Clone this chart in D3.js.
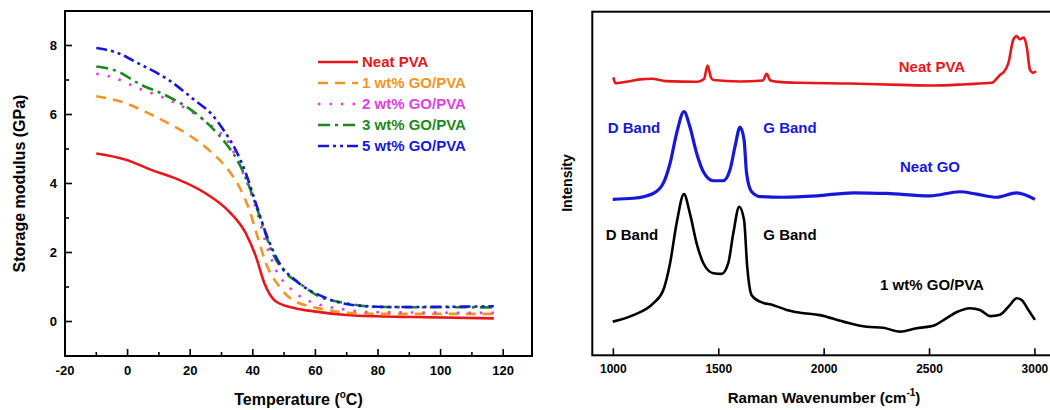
<!DOCTYPE html>
<html>
<head>
<meta charset="utf-8">
<script src="https://cdn.jsdelivr.net/npm/d3@7"></script>
<style>
  body { margin: 0; background: #fff; }
  text { font-family: "Liberation Sans", Arial, sans-serif; font-weight: bold; }
</style>
</head>
<body>
<div id="plot"></div>
<script>
// ---- left panel data: storage modulus (GPa) vs temperature (C)
var neatPVA = [[-10,4.87],[-0.5,4.69],[8,4.38],[15.5,4.14],[25,3.71],[32.5,3.18],[37.8,2.55],[41,1.88],[43.7,1.11],[47.4,0.58],[53.8,0.38],[59,0.3],[69.8,0.19],[80,0.15],[91,0.13],[117,0.09]];
var go1 = [[-10,6.53],[-1.6,6.36],[5.9,6.07],[12.3,5.78],[19.7,5.4],[26.1,4.96],[31.4,4.48],[35.7,3.9],[38.9,3.23],[41.5,2.46],[44.2,1.69],[48.5,1.01],[52.7,0.63],[62.3,0.36],[73,0.24],[85,0.22],[117,0.22]];
var go2 = [[-10,7.18],[-4.8,7.08],[3.7,6.75],[11.2,6.5],[19.7,6.12],[27.2,5.64],[32.5,5.16],[34.6,4.77],[38.3,4.0],[41.5,3.13],[44.2,2.27],[47.4,1.49],[51.7,0.99],[56,0.68],[69.8,0.34],[79.4,0.27],[117,0.25]];
var go3 = [[-10,7.39],[-3.7,7.27],[3.7,6.89],[12.3,6.55],[19.7,6.17],[26.1,5.69],[31.4,5.16],[35.1,4.67],[38.9,3.9],[42.6,2.94],[46.3,1.98],[50.6,1.4],[54.9,1.11],[60.2,0.77],[69.8,0.53],[80.4,0.42],[117,0.41]];
var go5 = [[-10,7.93],[-3.7,7.8],[3.7,7.47],[13.3,6.99],[20.8,6.46],[27.2,5.97],[31.4,5.45],[34.6,4.96],[37.8,4.29],[41,3.42],[44.2,2.55],[48.5,1.69],[53.8,1.18],[63.4,0.68],[75.1,0.45],[85,0.42],[117,0.44]];
var leftNames = ["Neat PVA", "1 wt% GO/PVA", "2 wt% GO/PVA", "3 wt% GO/PVA", "5 wt% GO/PVA"];
var leftColors = ["#e8161b", "#f39526", "#e03ee6", "#1b8a1b", "#1717dc"];
var leftDashes = [null, "10,7", "2.5,9", "12,5,3,5", "11,4,3,4,3,4"];
var tempTicks = [-20, 0, 20, 40, 60, 80, 100, 120];
var modTicks = [0, 2, 4, 6, 8];

// ---- right panel data: Raman intensity (a.u.) vs wavenumber
var ramanPVA = [[1000,80.9],[1010,79.2],[1060,79.6],[1126,80.3],[1182,80.5],[1250,79.8],[1400,79.6],[1430,80.4],[1447,84.3],[1462,81],[1474,80.1],[1600,79.7],[1710,80],[1727,81.9],[1745,80],[1800,79.5],[1885,79.3],[2122,79.1],[2359,78.7],[2518,78.5],[2676,78.9],[2795,79.3],[2834,81.6],[2853,82.5],[2874,85],[2897,91.8],[2913,92.9],[2929,92],[2948,92.5],[2961,89.8],[2977,83],[2992,82.2],[3005,82.7]];
var ramanGO = [[997,45.4],[1095,45.7],[1189,47.1],[1237,50.1],[1269,55.9],[1300,64.6],[1335,70.9],[1363,66.5],[1395,58.8],[1427,53.4],[1474,50.8],[1521,50.8],[1553,53.9],[1577,60.7],[1601,66.4],[1620,62.7],[1632,53],[1656,47.6],[1696,46.2],[1806,46],[1965,46.4],[2138,47.3],[2297,47.1],[2502,46.4],[2644,47.6],[2724,46.9],[2818,46],[2913,47.3],[3000,45.4]];
var ramanComposite = [[997,9.8],[1095,11.7],[1189,15.1],[1237,19],[1269,26.8],[1300,38.4],[1335,46.9],[1363,41.3],[1395,32.6],[1427,26.8],[1474,23.9],[1514,23.7],[1545,26.8],[1569,35.5],[1597,43.2],[1620,39.4],[1635,25.8],[1656,17.5],[1696,15.6],[1759,14.6],[1822,13.2],[1885,12.4],[1980,11.7],[2091,9.8],[2202,8.3],[2280,8],[2360,6.9],[2439,7.9],[2518,8.6],[2570,10.4],[2630,12.6],[2692,13.7],[2739,13.2],[2790,11.4],[2834,11.8],[2881,14.6],[2913,16.6],[2937,16.1],[2969,13.2],[3000,10.3]];
var ramanColors = ["#e8161b", "#1717dc", "#000000"];
var waveTicks = [1000, 1500, 2000, 2500, 3000];

var svg = d3.select("#plot")
            .append("svg")
            .attr("width", 1050)
            .attr("height", 410);

// ================= left panel =================
var L = { x0: 65, x1: 532, y0: 11, y1: 356 };
var xL = d3.scaleLinear().domain([-20, 129.2]).range([L.x0, L.x1]);
var yL = d3.scaleLinear().domain([-1, 9]).range([L.y1, L.y0]);

var gL = svg.append("g");

// ticks (inward)
gL.selectAll(".xmaj").data(tempTicks).enter().append("line")
    .attr("x1", function(d){ return xL(d); }).attr("x2", function(d){ return xL(d); })
    .attr("y1", L.y1).attr("y2", L.y1 - 7)
    .attr("stroke", "#000").attr("stroke-width", 1.6);
gL.selectAll(".xmin").data(d3.range(-10, 121, 20)).enter().append("line")
    .attr("x1", function(d){ return xL(d); }).attr("x2", function(d){ return xL(d); })
    .attr("y1", L.y1).attr("y2", L.y1 - 4)
    .attr("stroke", "#000").attr("stroke-width", 1.6);
gL.selectAll(".ymaj").data(modTicks).enter().append("line")
    .attr("x1", L.x0).attr("x2", L.x0 + 7)
    .attr("y1", function(d){ return yL(d); }).attr("y2", function(d){ return yL(d); })
    .attr("stroke", "#000").attr("stroke-width", 1.6);
gL.selectAll(".ymin").data([1, 3, 5, 7]).enter().append("line")
    .attr("x1", L.x0).attr("x2", L.x0 + 4)
    .attr("y1", function(d){ return yL(d); }).attr("y2", function(d){ return yL(d); })
    .attr("stroke", "#000").attr("stroke-width", 1.6);

gL.selectAll(".xlab").data(tempTicks).enter().append("text")
    .attr("x", function(d){ return xL(d); })
    .attr("y", 375)
    .attr("text-anchor", "middle")
    .style("font-size", "13px")
    .text(function(d){ return d; });
gL.selectAll(".ylab").data(modTicks).enter().append("text")
    .attr("x", 57)
    .attr("y", function(d){ return yL(d) + 4.5; })
    .attr("text-anchor", "end")
    .style("font-size", "13px")
    .text(function(d){ return d; });

var lineL = d3.line()
    .x(function(d){ return xL(d[0]); })
    .y(function(d){ return yL(d[1]); })
    .curve(d3.curveMonotoneX);

[neatPVA, go1, go2, go3, go5].forEach(function(s, i){
    gL.append("path")
        .attr("d", lineL(s))
        .attr("fill", "none")
        .attr("stroke", leftColors[i])
        .attr("stroke-width", 2.6)
        .attr("stroke-dasharray", leftDashes[i]);
});

gL.append("rect")
    .attr("x", L.x0).attr("y", L.y0)
    .attr("width", L.x1 - L.x0).attr("height", L.y1 - L.y0)
    .attr("fill", "none").attr("stroke", "#000").attr("stroke-width", 2);

// legend
var leg = gL.append("g").attr("transform", "translate(318, 67)");
leftNames.forEach(function(n, i){
    leg.append("line")
        .attr("x1", 0).attr("x2", 40)
        .attr("y1", i * 21 - 5).attr("y2", i * 21 - 5)
        .attr("stroke", leftColors[i])
        .attr("stroke-width", 2.6)
        .attr("stroke-dasharray", leftDashes[i]);
    leg.append("text")
        .attr("x", 44).attr("y", i * 21)
        .attr("fill", leftColors[i])
        .style("font-size", "15px")
        .text(n);
});

var xtL = gL.append("text")
    .attr("x", (L.x0 + L.x1) / 2).attr("y", 405)
    .attr("text-anchor", "middle")
    .style("font-size", "16px");
xtL.append("tspan").text("Temperature (");
xtL.append("tspan").attr("dy", -7).style("font-size", "10px").text("o");
xtL.append("tspan").attr("dy", 7).text("C)");

gL.append("text")
    .attr("transform", "translate(25," + ((L.y0 + L.y1) / 2) + ") rotate(-90)")
    .attr("text-anchor", "middle")
    .style("font-size", "16px")
    .text("Storage modulus (GPa)");

// ================= right panel =================
var R = { x0: 592.3, x1: 1056, y0: 11.7, y1: 355.3 };
var xR = d3.scaleLinear().domain([900, 3100]).range([R.x0, R.x1]);
var yR = d3.scaleLinear().domain([0, 100]).range([R.y1, R.y0]);

var gR = svg.append("g");

gR.selectAll(".xmaj").data(waveTicks).enter().append("line")
    .attr("x1", function(d){ return xR(d); }).attr("x2", function(d){ return xR(d); })
    .attr("y1", R.y1).attr("y2", R.y1 - 7)
    .attr("stroke", "#000").attr("stroke-width", 1.6);
gR.selectAll(".xlab").data(waveTicks).enter().append("text")
    .attr("x", function(d){ return xR(d); })
    .attr("y", 373)
    .attr("text-anchor", "middle")
    .style("font-size", "12px")
    .text(function(d){ return d; });

var lineR = d3.line()
    .x(function(d){ return xR(d[0]); })
    .y(function(d){ return yR(d[1]); })
    .curve(d3.curveMonotoneX);

[ramanPVA, ramanGO, ramanComposite].forEach(function(s, i){
    gR.append("path")
        .attr("d", lineR(s))
        .attr("fill", "none")
        .attr("stroke", ramanColors[i])
        .attr("stroke-width", i === 1 ? 3.2 : 2.6)
        .attr("stroke-linejoin", "round");
});

gR.append("rect")
    .attr("x", R.x0).attr("y", R.y0)
    .attr("width", R.x1 - R.x0).attr("height", R.y1 - R.y0)
    .attr("fill", "none").attr("stroke", "#000").attr("stroke-width", 2);

var notes = [
    { t: "Neat PVA", x: 932, y: 72, c: ramanColors[0] },
    { t: "Neat GO", x: 930, y: 172, c: ramanColors[1] },
    { t: "1 wt% GO/PVA", x: 932, y: 290, c: ramanColors[2] },
    { t: "D Band", x: 634, y: 133, c: ramanColors[1] },
    { t: "G Band", x: 790, y: 133, c: ramanColors[1] },
    { t: "D Band", x: 632, y: 240, c: ramanColors[2] },
    { t: "G Band", x: 790, y: 240, c: ramanColors[2] }
];
gR.selectAll(".note").data(notes).enter().append("text")
    .attr("x", function(d){ return d.x; })
    .attr("y", function(d){ return d.y; })
    .attr("text-anchor", "middle")
    .attr("fill", function(d){ return d.c; })
    .style("font-size", "15px")
    .text(function(d){ return d.t; });

var xtR = gR.append("text")
    .attr("x", 824).attr("y", 403)
    .attr("text-anchor", "middle")
    .style("font-size", "15px");
xtR.append("tspan").text("Raman Wavenumber (cm");
xtR.append("tspan").attr("dy", -7).style("font-size", "10px").text("-1");
xtR.append("tspan").attr("dy", 7).text(")");

gR.append("text")
    .attr("transform", "translate(572,183) rotate(-90)")
    .attr("text-anchor", "middle")
    .style("font-size", "14px")
    .text("Intensity");
</script>
</body>
</html>
